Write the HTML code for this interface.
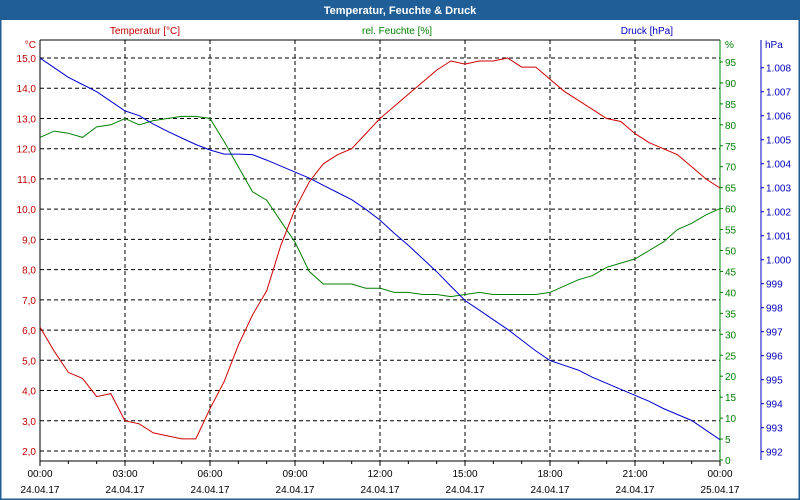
<!DOCTYPE html>
<html><head><meta charset="utf-8"><style>
html,body{margin:0;padding:0;background:#fff}
#wrap{position:relative;width:800px;height:500px;overflow:hidden;font-family:"Liberation Sans",sans-serif}
</style></head><body>
<div id="wrap">
<svg id="chart" width="800" height="500" xmlns="http://www.w3.org/2000/svg" font-family="Liberation Sans, sans-serif">
<rect x="0" y="0" width="800" height="500" fill="#fff"/>
<rect x="0" y="0" width="800" height="20" fill="#1f5e96"/>
<rect x="0.5" y="0.5" width="799" height="499" fill="none" stroke="#1f5e96" stroke-width="2"/>
<text x="400" y="14" text-anchor="middle" font-size="11" font-weight="bold" fill="#fff">Temperatur, Feuchte &amp; Druck</text>
<text x="145" y="34" text-anchor="middle" font-size="10" fill="#c00000">Temperatur [°C]</text>
<text x="397" y="34" text-anchor="middle" font-size="10" fill="#008000">rel. Feuchte [%]</text>
<text x="673" y="34" text-anchor="end" font-size="10" fill="#0000c0">Druck [hPa]</text>
<text x="36" y="48" text-anchor="end" font-size="10" fill="#c00000">°C</text>
<text x="725" y="48" font-size="10" fill="#008000">%</text>
<text x="765" y="48" font-size="10" fill="#0000c0">hPa</text>
<g id="grid"></g>
<g id="axes"></g>
<g id="series"></g>
</svg>
</div>
<script>
const hours = [0,0.5,1,1.5,2,2.5,3,3.5,4,4.5,5,5.5,6,6.5,7,7.5,8,8.5,9,9.5,10,10.5,11,11.5,12,12.5,13,13.5,14,14.5,15,15.5,16,16.5,17,17.5,18,18.5,19,19.5,20,20.5,21,21.5,22,22.5,23,23.5,24];
const temperature = [6.1,5.3,4.6,4.4,3.8,3.9,3.0,2.9,2.6,2.5,2.4,2.4,3.4,4.3,5.5,6.5,7.3,8.8,10.0,10.9,11.5,11.8,12.0,12.5,13.0,13.4,13.8,14.2,14.6,14.9,14.8,14.9,14.9,15.0,14.7,14.7,14.3,13.9,13.6,13.3,13.0,12.9,12.5,12.2,12.0,11.8,11.4,11.0,10.7];
const humidity = [77,78.5,78,77,79.5,80,81.5,80,81,81.5,82,82,81.5,76,70,64,62,57,52,45,42,42,42,41,41,40,40,39.5,39.5,39,39.5,40,39.5,39.5,39.5,39.5,40,41.5,43,44,46,47,48,50,52,55,56.5,58.5,60];
const pressure = [1008.4,1008.0,1007.6,1007.3,1007.0,1006.6,1006.2,1006.0,1005.65,1005.35,1005.07,1004.8,1004.57,1004.4,1004.4,1004.38,1004.15,1003.9,1003.65,1003.4,1003.1,1002.8,1002.5,1002.1,1001.65,1001.1,1000.6,1000.05,999.5,998.9,998.3,997.9,997.5,997.1,996.65,996.2,995.8,995.6,995.4,995.1,994.85,994.6,994.35,994.1,993.8,993.55,993.3,992.9,992.5];
const tempTicks = [2,3,4,5,6,7,8,9,10,11,12,13,14,15];
const humTicks = [0,5,10,15,20,25,30,35,40,45,50,55,60,65,70,75,80,85,90,95];
const presTicks = [992,993,994,995,996,997,998,999,1000,1001,1002,1003,1004,1005,1006,1007,1008];
const timeLabels = ["00:00","03:00","06:00","09:00","12:00","15:00","18:00","21:00","00:00"];
const dateLabels = ["24.04.17","24.04.17","24.04.17","24.04.17","24.04.17","24.04.17","24.04.17","24.04.17","25.04.17"];

const X0=40,X1=720,YT=40,YB=461;
const xS=h=>X0+(X1-X0)*h/24;
const yT=t=>451-(t-2)*30.23;
const yH=v=>460-v*4.19;
const yP=p=>451.7-(p-992)*24;
const NS="http://www.w3.org/2000/svg";
function mk(tag,attrs,parent,text){const e=document.createElementNS(NS,tag);for(const k in attrs)e.setAttribute(k,attrs[k]);if(text!==undefined)e.textContent=text;parent.appendChild(e);return e;}
const grid=document.getElementById('grid'),axes=document.getElementById('axes'),series=document.getElementById('series');

tempTicks.forEach(t=>{
  const y=yT(t);
  const l=mk('line',{x1:X0,x2:X1,y1:y,y2:y,stroke:'#000','stroke-dasharray':'4,3','stroke-width':1},grid);
  
  
  const tx=mk('text',{x:36,y:y+4,'text-anchor':'end','font-size':10,fill:'#c00000'},axes,t.toFixed(1).replace('.',','));
  
  
});
timeLabels.forEach((s,i)=>{
  const x=xS(i*3);
  if(i>0&&i<8){const l=mk('line',{x1:x,x2:x,y1:YT,y2:YB,stroke:'#000','stroke-dasharray':'4,3'},grid);
  
  }
  const a=mk('text',{x:x,y:477,'text-anchor':'middle','font-size':10,fill:'#000'},axes,s);
  
  
  const b=mk('text',{x:x,y:493,'text-anchor':'middle','font-size':10,fill:'#000'},axes,dateLabels[i]);
  
  
});
for(let h=0;h<=24;h++){mk('line',{x1:xS(h),x2:xS(h),y1:YB,y2:YB+(h%3===0?5:3),stroke:'#000'},axes);}
let ax=mk('line',{x1:X0,x2:X1,y1:YT,y2:YT,stroke:'#000'},axes);
ax=mk('line',{x1:X0,x2:X0,y1:YT,y2:YB,stroke:'#000'},axes);


ax=mk('line',{x1:X0,x2:X1,y1:YB,y2:YB,stroke:'#000'},axes);


ax=mk('line',{x1:X1,x2:X1,y1:YT,y2:YB,stroke:'#008000'},axes);


ax=mk('line',{x1:761,x2:761,y1:YT,y2:460,stroke:'#0000c0'},axes);


humTicks.forEach(v=>{
  const y=yH(v);
  mk('line',{x1:X1,x2:X1+3,y1:y,y2:y,stroke:'#008000'},axes);
  const t=mk('text',{x:725,y:y+4,'font-size':10,fill:'#008000'},axes,String(v));
  
  
});
presTicks.forEach(p=>{
  const y=yP(p);
  mk('line',{x1:761,x2:764,y1:y,y2:y,stroke:'#0000c0'},axes);
  const s=p>=1000?(Math.floor(p/1000)+'.'+String(p%1000).padStart(3,'0')):String(p);
  const t=mk('text',{x:766,y:y+4,'font-size':10,fill:'#0000c0'},axes,s);
  
  
});
function line(vals,yf,color,name){
  const d=vals.map((v,i)=>(i?'L':'M')+xS(hours[i]).toFixed(1)+','+yf(v).toFixed(1)).join('');
  const p=mk('path',{d:d,fill:'none',stroke:color,'stroke-width':1},series);
  
  
}
line(humidity,yH,'#008000','humidity-line');
line(pressure,yP,'#0000d0','pressure-line');
line(temperature,yT,'#d00000','temperature-line');
</script>
</body></html>
